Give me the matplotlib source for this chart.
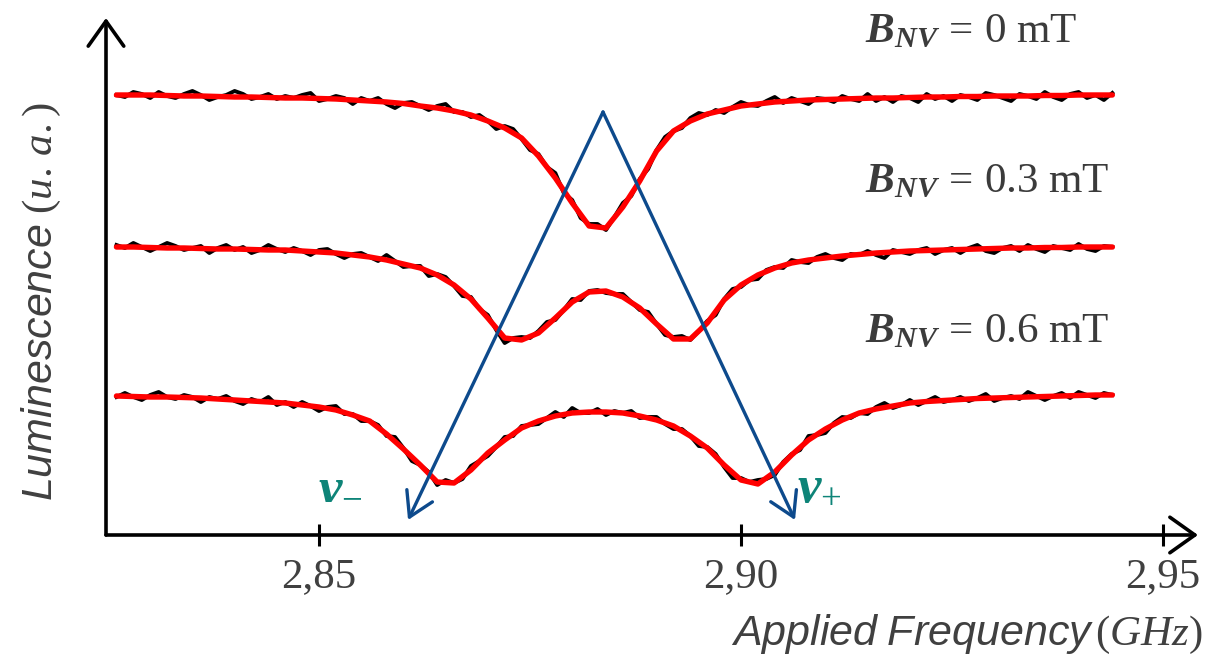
import numpy as np
import matplotlib.pyplot as plt

plt.rcParams['mathtext.fontset'] = 'custom'
plt.rcParams['mathtext.rm'] = 'Liberation Serif'
plt.rcParams['mathtext.it'] = 'Liberation Serif:italic'
plt.rcParams['mathtext.bf'] = 'Liberation Serif:italic:bold'
plt.rcParams['mathtext.sf'] = 'Liberation Sans:italic'

# frequency grids (GHz): fit sampled every 2 MHz, raw scan every 1 MHz
freq_fit = np.linspace(2.826, 2.944, 60)
freq_raw = np.linspace(2.826, 2.944, 119)

# luminescence (a.u.), curves stacked with offsets as in the figure
fit_0mT = [440, 440, 440, 439.5, 439, 439, 438.5, 438, 438, 437.5,
           437, 437, 436.5, 436, 435, 434, 433, 431.5, 429, 427,
           424, 420, 414, 407, 397, 379, 357, 332, 309, 307,
           328, 354, 384, 404, 414, 421, 425, 429, 431, 433,
           434, 435, 435.5, 436, 436.5, 437, 437, 437.5, 438, 438,
           438.5, 438.5, 439, 439, 439, 439.5, 439.5, 440, 440, 440]
fit_03mT = [288, 288, 287.5, 287, 287, 286.5, 286, 286, 285.5, 285,
            285, 284, 283, 282, 280, 278, 275, 271, 267, 260,
            250, 236, 217, 197, 195, 202, 217, 233, 243, 244,
            238, 227, 211, 196, 196, 212, 235, 250, 260, 267,
            272, 275, 277, 279, 280.5, 282, 283, 284, 284.5, 285,
            285.5, 286, 286.5, 287, 287, 287.5, 287.5, 288, 288, 288]
fit_06mT = [139, 138.5, 138, 138, 137.5, 137, 136, 135, 134, 133,
            132, 130, 128, 125, 120, 114, 101, 86, 70, 53,
            52, 65, 82, 95, 107, 114, 119, 122, 123, 123,
            122, 119, 115, 109, 99, 87, 70, 55, 51, 63,
            80, 95, 106, 115, 122, 126, 129, 132, 133.5, 134.5,
            135.5, 136.5, 137, 137.5, 138, 138.5, 139, 139.5, 140, 140]

raw_0mT = [440, 438, 443, 441, 437, 443, 439, 437, 441, 444,
           440, 435, 438, 440, 444, 441, 436, 438, 441, 436,
           439, 437, 440, 442, 434, 436, 439, 437, 431, 437,
           434, 437, 431, 427, 432, 433, 429, 425, 429, 431,
           423, 423, 418, 420, 414, 406, 409, 406, 396, 385,
           381, 368, 362, 342, 335, 317, 311, 311, 305, 318,
           332, 339, 356, 366, 385, 398, 404, 407, 417, 422,
           420, 425, 422, 428, 433, 430, 429, 434, 438, 432,
           437, 434, 431, 437, 436, 433, 439, 436, 434, 441,
           434, 438, 433, 439, 437, 433, 441, 436, 439, 434,
           440, 438, 435, 442, 440, 437, 434, 441, 439, 436,
           443, 438, 435, 441, 443, 437, 440, 435, 442]
raw_03mT = [290, 287, 292, 288, 284, 288, 292, 289, 285, 287,
            289, 282, 287, 290, 285, 288, 282, 285, 290, 286,
            283, 287, 284, 280, 285, 286, 281, 277, 281, 282,
            278, 274, 280, 274, 268, 269, 269, 259, 261, 258,
            249, 239, 238, 226, 220, 205, 192, 197, 198, 197,
            204, 213, 215, 225, 236, 235, 244, 245, 242, 241,
            241, 233, 225, 223, 211, 200, 198, 199, 195, 204,
            214, 220, 236, 246, 248, 255, 256, 265, 268, 267,
            275, 273, 272, 278, 281, 277, 275, 281, 280, 284,
            280, 277, 285, 283, 281, 285, 287, 281, 285, 287,
            282, 287, 290, 284, 282, 287, 289, 284, 290, 286,
            283, 289, 287, 285, 291, 286, 284, 289, 288]
raw_06mT = [138, 142, 138, 135, 140, 143, 138, 136, 140, 138,
            133, 138, 136, 139, 134, 131, 136, 133, 138, 130,
            133, 128, 133, 129, 124, 128, 129, 121, 121, 114,
            114, 110, 99, 98, 87, 74, 70, 63, 50, 55,
            52, 56, 69, 74, 79, 88, 98, 99, 109, 110,
            111, 117, 123, 118, 127, 122, 122, 126, 120, 124,
            122, 124, 117, 118, 118, 111, 106, 106, 99, 89,
            88, 81, 68, 57, 57, 53, 55, 56, 60, 73,
            81, 85, 99, 100, 102, 112, 118, 117, 122, 121,
            128, 132, 127, 130, 135, 130, 134, 138, 133, 135,
            138, 134, 137, 141, 134, 137, 139, 136, 143, 139,
            135, 139, 142, 137, 143, 140, 137, 142, 140]

field_labels = [r'$\mathbf{B}_{\mathbf{NV}}\,=\,0\ \mathrm{mT}$',
                r'$\mathbf{B}_{\mathbf{NV}}\,=\,0.3\ \mathrm{mT}$',
                r'$\mathbf{B}_{\mathbf{NV}}\,=\,0.6\ \mathrm{mT}$']
tick_vals = [2.85, 2.90, 2.95]
tick_labels = ['2,85', '2,90', '2,95']

fig = plt.figure(figsize=(12.08, 6.56), dpi=100)
ax = fig.add_axes([106 / 1208, 121 / 656, 1092 / 1208, 517 / 656])
ax.set_xlim(2.82476, 2.95415)
ax.set_ylim(0, 517)
for s in ax.spines.values():
    s.set_visible(False)

# axes drawn as arrows
arr = dict(arrowstyle='->,head_length=0.45,head_width=0.32', lw=2.6,
           color='black', mutation_scale=40, shrinkA=0, shrinkB=0)
ax.annotate('', xy=(1, 0), xytext=(0, 0), xycoords='axes fraction', arrowprops=arr)
ax.annotate('', xy=(0, 1), xytext=(0, 0), xycoords='axes fraction', arrowprops=arr)

ax.set_xticks(tick_vals, tick_labels)
ax.set_yticks([])
ax.tick_params(axis='x', direction='inout', length=16, width=2.2, pad=8,
               labelsize=31, labelcolor='#404040', labelfontfamily='Liberation Serif')

for raw, fit in [(raw_0mT, fit_0mT), (raw_03mT, fit_03mT), (raw_06mT, fit_06mT)]:
    ax.plot(freq_raw, raw, color='black', lw=2.8, zorder=2)
    ax.plot(freq_fit, fit, color='#ff0000', lw=3.9, zorder=3,
            solid_joinstyle='round', solid_capstyle='round')

for lbl, yb in zip(field_labels, [493, 343, 193]):
    ax.text(2.9147, yb, lbl, fontsize=31, color='#3b3b3b', ha='left', va='baseline')

# splitting arrows
blue = '#0d4a8c'
barr = dict(arrowstyle='->,head_length=0.5,head_width=0.3', lw=2.4, color=blue,
            mutation_scale=34, shrinkA=0, shrinkB=0)
ax.annotate('', xy=(2.86055, 15), xytext=(2.88365, 423), arrowprops=barr)
ax.annotate('', xy=(2.9064, 15), xytext=(2.88365, 423), arrowprops=barr)

teal = '#0e8478'
ax.text(2.8499, 37, r'$\mathbf{\nu}_{-}$', fontsize=38, color=teal, ha='left', va='baseline')
ax.text(2.9066, 37, r'$\mathbf{\nu}_{+}$', fontsize=38, color=teal, ha='left', va='baseline')

fig.text(0.034, 0.54, r'$\mathsf{Luminescence}\ (u.\,a.)$', rotation=90,
         ha='center', va='center', fontsize=31, color='#404040')
fig.text(1203 / 1208, 1 - 645 / 656, r'$\mathsf{Applied\ Frequency}\,(GHz)$',
         ha='right', va='baseline', fontsize=31, color='#404040')

fig.savefig('out.png', dpi=100)
